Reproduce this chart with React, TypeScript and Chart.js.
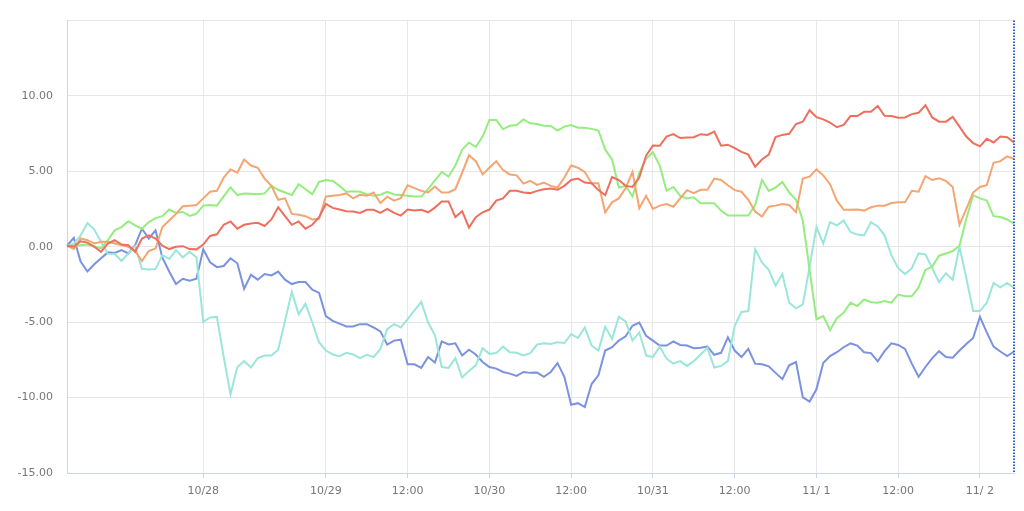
import React, { useEffect, useRef } from "react";
import { Chart, registerables } from "chart.js";

Chart.register(...registerables);

const pointCount = 140;
const tickIndex = [20, 38, 50, 62, 74, 86, 98, 110, 122, 134];
const tickText = ["10/28", "10/29", "12:00", "10/30", "12:00", "10/31", "12:00", "11/ 1", "12:00", "11/ 2"];

const redSeries = [0.07,0,0.37,0.28,0,-0.33,0.22,0.44,0.15,0.11,-0.33,0.55,0.76,0.55,0.07,-0.15,0,0.04,-0.15,-0.17,
0.15,0.72,0.83,1.46,1.68,1.2,1.46,1.55,1.59,1.38,
1.81,2.62,2.03,1.46,1.68,1.2,1.46,1.97,2.84,2.58,
2.47,2.36,2.34,2.25,2.45,2.45,2.25,2.51,2.25,2.07,
2.47,2.4,2.45,2.29,2.6,3.01,3.01,1.97,2.36,1.27,
1.97,2.29,2.47,3.06,3.21,3.71,3.71,3.6,3.56,3.71,
3.82,3.86,3.78,4.04,4.43,4.52,4.26,4.21,3.76,3.43,
4.63,4.43,4.04,3.97,4.59,6.05,6.72,6.7,7.31,7.47,
7.21,7.25,7.27,7.47,7.42,7.64,6.7,6.77,6.55,6.29,
6.11,5.31,5.79,6.11,7.27,7.42,7.49,8.14,8.3,9.06,
8.6,8.45,8.23,7.93,8.08,8.67,8.67,8.95,8.95,9.34,
8.69,8.67,8.56,8.58,8.8,8.89,9.39,8.58,8.3,8.3,
8.62,7.97,7.31,6.88,6.66,7.16,6.92,7.31,7.27,6.92];

const orangeSeries = [0.07,-0.15,0.55,0.44,0.22,0.33,0.33,0.22,0.11,0,-0.28,-0.94,-0.28,-0.11,1.31,1.75,2.18,2.69,2.73,2.77,
3.21,3.65,3.71,4.59,5.13,4.91,5.79,5.39,5.24,4.52,
4.04,3.12,3.21,2.18,2.12,2.03,1.81,1.86,3.34,3.38,
3.43,3.54,3.21,3.45,3.38,3.6,2.9,3.32,3.06,3.23,
4.08,3.89,3.71,3.6,4.0,3.6,3.6,3.82,4.91,6.07,
5.68,4.8,5.24,5.68,5.09,4.8,4.74,4.19,4.37,4.1,
4.26,4.04,3.93,4.59,5.39,5.24,4.96,4.21,4.21,2.29,
2.95,3.21,3.9,4.96,2.55,3.38,2.51,2.73,2.84,2.66,
3.21,3.76,3.56,3.78,3.78,4.52,4.43,4.08,3.76,3.65,
3.12,2.34,2.01,2.66,2.73,2.84,2.77,2.29,4.52,4.65,
5.13,4.74,4.15,3.06,2.45,2.45,2.47,2.4,2.62,2.73,
2.73,2.9,2.95,2.95,3.71,3.65,4.69,4.43,4.54,4.37,
3.97,1.46,2.51,3.6,3.97,4.08,5.57,5.68,6.0,5.83];

const greenSeries = [0.07,0.07,0.11,0.15,0.04,-0.11,0.44,1.09,1.31,1.7,1.42,1.2,1.64,1.9,2.03,2.47,2.25,2.31,2.05,2.2,
2.73,2.77,2.73,3.34,3.95,3.43,3.54,3.51,3.49,3.54,
4.04,3.78,3.6,3.43,4.15,3.82,3.49,4.3,4.43,4.37,
4.04,3.65,3.69,3.65,3.49,3.38,3.45,3.65,3.47,3.43,
3.38,3.34,3.34,3.82,4.4,4.96,4.65,5.39,6.44,6.92,
6.62,7.31,8.41,8.41,7.79,8.03,8.08,8.45,8.19,8.14,
8.03,8.01,7.71,7.97,8.08,7.9,7.9,7.82,7.71,6.44,
5.79,3.93,4.04,3.34,4.91,5.83,6.27,5.39,3.71,3.97,
3.38,3.21,3.28,2.88,2.88,2.88,2.4,2.07,2.07,2.07,
2.07,2.77,4.43,3.71,3.93,4.3,3.6,3.12,1.75,-1.53,
-4.8,-4.59,-5.52,-4.74,-4.37,-3.71,-3.93,-3.49,-3.67,-3.71,
-3.6,-3.71,-3.17,-3.28,-3.28,-2.69,-1.53,-1.31,-0.59,-0.44,
-0.28,0.07,1.86,3.43,3.21,3.06,2.03,1.97,1.81,1.53];

const cyanSeries = [0.07,0.2,0.76,1.57,1.14,0.33,-0.46,-0.48,-0.94,-0.44,0.04,-1.46,-1.51,-1.48,-0.55,-0.81,-0.22,-0.7,-0.33,-0.7,
-4.98,-4.69,-4.65,-7.31,-9.78,-7.97,-7.58,-8.01,-7.38,-7.21,
-7.21,-6.83,-4.91,-2.99,-4.48,-3.78,-5.02,-6.33,-6.88,-7.14,
-7.25,-7.03,-7.14,-7.38,-7.16,-7.31,-6.77,-5.46,-5.13,-5.35,
-4.8,-4.21,-3.65,-5.02,-5.85,-7.97,-8.03,-7.38,-8.67,-8.23,
-7.86,-6.72,-7.1,-7.05,-6.62,-6.99,-7.03,-7.21,-7.05,-6.48,
-6.4,-6.44,-6.33,-6.38,-5.79,-6.05,-5.35,-6.55,-6.88,-5.31,
-6.11,-4.65,-4.94,-6.22,-5.68,-7.21,-7.31,-6.62,-7.42,-7.75,
-7.58,-7.9,-7.58,-7.14,-6.7,-8.01,-7.9,-7.58,-5.24,-4.32,
-4.26,-0.15,-1.03,-1.53,-2.58,-1.81,-3.71,-4.08,-3.82,-1.31,
1.31,0.22,1.64,1.42,1.75,0.98,0.81,0.76,1.64,1.35,
0.76,-0.55,-1.42,-1.81,-1.42,-0.44,-0.5,-1.42,-2.34,-1.75,
-2.18,0,-2.07,-4.26,-4.26,-3.71,-2.4,-2.69,-2.4,-2.73];

const blueSeries = [0.07,0.59,-0.98,-1.64,-1.16,-0.76,-0.37,-0.41,-0.22,-0.44,0.11,1.2,0.55,1.09,-0.72,-1.64,-2.47,-2.12,-2.25,-2.12,
-0.17,-1.03,-1.35,-1.27,-0.76,-1.09,-2.79,-1.86,-2.18,-1.81,
-1.9,-1.64,-2.18,-2.47,-2.34,-2.34,-2.84,-3.06,-4.59,-4.91,
-5.09,-5.28,-5.28,-5.13,-5.13,-5.35,-5.61,-6.48,-6.22,-6.16,
-7.79,-7.79,-8.03,-7.31,-7.68,-6.27,-6.48,-6.4,-7.21,-6.83,
-7.14,-7.64,-7.97,-8.08,-8.3,-8.41,-8.56,-8.3,-8.36,-8.34,
-8.62,-8.3,-7.71,-8.62,-10.48,-10.37,-10.63,-9.1,-8.52,-6.88,
-6.66,-6.22,-5.93,-5.24,-5.02,-5.9,-6.22,-6.55,-6.55,-6.27,
-6.51,-6.55,-6.72,-6.7,-6.62,-7.16,-7.03,-6.0,-6.88,-7.31,
-6.77,-7.75,-7.79,-7.93,-8.36,-8.78,-7.86,-7.64,-9.98,-10.26,
-9.45,-7.71,-7.25,-6.99,-6.66,-6.4,-6.55,-6.99,-7.05,-7.6,
-6.92,-6.4,-6.51,-6.77,-7.75,-8.62,-7.97,-7.38,-6.92,-7.31,
-7.36,-6.88,-6.44,-6.05,-4.65,-5.68,-6.62,-6.94,-7.25,-6.94];

const categories: string[] = [];
for (let i = 0; i < pointCount; i++) {
  const k = tickIndex.indexOf(i);
  categories.push(k >= 0 ? tickText[k] : "");
}

const seriesList = [
  { name: "A", data: redSeries, color: "#ef6f5e" },
  { name: "B", data: orangeSeries, color: "#f4a572" },
  { name: "C", data: greenSeries, color: "#95ec7f" },
  { name: "D", data: cyanSeries, color: "#9be6da" },
  { name: "E", data: blueSeries, color: "#7a92e0" },
];

const rightEdgePlugin = {
  id: "rightEdge",
  afterDatasetsDraw(chart: any) {
    const { ctx, chartArea } = chart;
    ctx.save();
    ctx.strokeStyle = "#2c5fd6";
    ctx.lineWidth = 2;
    ctx.setLineDash([1.5, 1.5]);
    ctx.beginPath();
    ctx.moveTo(chartArea.right, chartArea.top);
    ctx.lineTo(chartArea.right, chartArea.bottom);
    ctx.stroke();
    ctx.restore();
  },
};

export default function App() {
  const ref = useRef<HTMLCanvasElement | null>(null);
  useEffect(() => {
    if (!ref.current) return;
    const font = { family: "'DejaVu Sans', Verdana, sans-serif", size: 11 };
    const chart = new Chart(ref.current, {
      type: "line",
      data: {
        labels: categories,
        datasets: seriesList.map((s) => ({
          label: s.name,
          data: s.data,
          borderColor: s.color,
          backgroundColor: s.color,
          borderWidth: 2,
          pointRadius: 0,
          tension: 0,
          fill: false,
        })),
      },
      options: {
        animation: false,
        responsive: false,
        devicePixelRatio: 1,
        layout: { padding: { top: 15, right: 10, left: 0, bottom: 0 } },
        plugins: { legend: { display: false }, tooltip: { enabled: false } },
        scales: {
          x: {
            type: "category",
            offset: false,
            afterFit: (scale: any) => { scale.height = 38; },
            border: { display: true, color: "#ccd6eb", width: 1 },
            grid: {
              color: (c: any) => (categories[c.index] ? "#e8e8e8" : "rgba(0,0,0,0)"),
              tickColor: (c: any) => (categories[c.index] ? "#ccd6eb" : "rgba(0,0,0,0)"),
              tickLength: 5,
              drawTicks: true,
            },
            ticks: {
              autoSkip: false,
              maxRotation: 0,
              minRotation: 0,
              padding: 7,
              color: "#777777",
              font,
              callback: (_v: any, i: number) => categories[i],
            },
          },
          y: {
            min: -15,
            max: 15,
            afterFit: (scale: any) => { scale.width = 67; },
            border: { display: true, color: "#ccd6eb", width: 1 },
            grid: { color: "#e6e6e6", drawTicks: false },
            ticks: {
              stepSize: 5,
              padding: 14,
              color: "#777777",
              font,
              callback: (v: any) => (Number(v) === 15 ? "" : Number(v).toFixed(2)),
            },
          },
        },
      },
      plugins: [rightEdgePlugin],
    } as any);
    return () => chart.destroy();
  }, []);
  return (
    <div style={{ position: "absolute", left: 0, top: 0, width: 1024, height: 511, background: "#fff" }}>
      <canvas ref={ref} width={1024} height={511} style={{ width: 1024, height: 511, display: "block" }} />
    </div>
  );
}
